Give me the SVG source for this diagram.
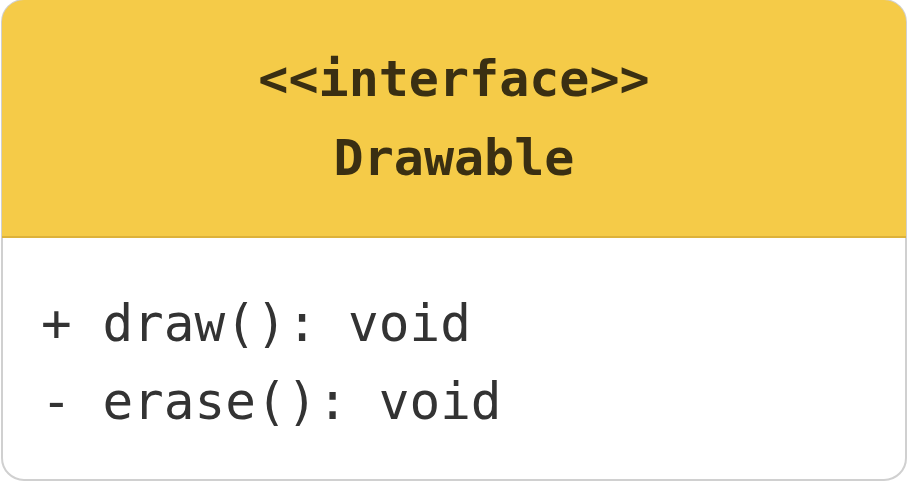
<svg xmlns="http://www.w3.org/2000/svg" width="912" height="498" viewBox="0 0 912 498">
<style>
.hdr{font-family:"DejaVu Sans Mono","Liberation Mono",monospace;font-weight:bold;font-size:50px;fill:#3a2f12;text-anchor:middle}
.mem{font-family:"DejaVu Sans Mono","Liberation Mono",monospace;font-size:51px;fill:#333333}
</style>
<rect width="912" height="498" fill="#ffffff"/>
<g id="drawable">
<rect x="2" y="0" width="904" height="480" rx="22" ry="22" fill="#ffffff" stroke="#d0d0d0" stroke-width="2"/>
<path d="M2,236 V22 A22,22 0 0 1 24,0 H884 A22,22 0 0 1 906,22 V236 Z" fill="#f5cb48"/>
<line x1="2" y1="237" x2="906" y2="237" stroke="#ddb23a" stroke-width="2"/>
<text class="hdr" x="454" y="96">&lt;&lt;interface&gt;&gt;</text>
<text class="hdr" x="454" y="175">Drawable</text>
<text class="mem" x="41" y="341">+ draw(): void</text>
<text class="mem" x="41" y="419">- erase(): void</text>
</g>
<g id="connectors"/>
</svg>
